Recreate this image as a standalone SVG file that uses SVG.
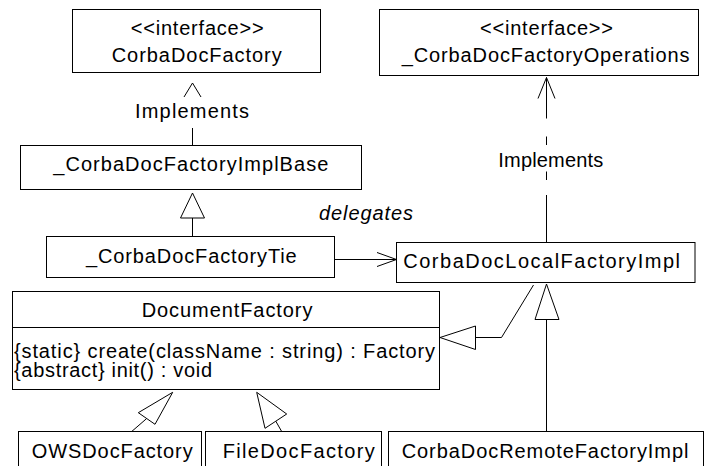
<svg xmlns="http://www.w3.org/2000/svg" width="715" height="466" viewBox="0 0 715 466">
<style>
.box{fill:#fff;stroke:#000;stroke-width:1}
.ln{fill:none;stroke:#000;stroke-width:1}
.tri{fill:#fff;stroke:#000;stroke-width:1}
text{font-family:"Liberation Sans",Arial,sans-serif;font-size:20px;fill:#000}
.it{font-style:italic}
</style>
<rect width="715" height="466" fill="#fff"/>
<g id="connectors">
  <!-- Implements (left) -->
  <line class="ln" x1="192.5" y1="128" x2="192.5" y2="145.5"/>
  <polyline class="ln" points="184,97 192.5,83 201,97"/>
  <!-- ImplBase <- Tie -->
  <line class="ln" x1="192.5" y1="218" x2="192.5" y2="236.5"/>
  <polygon class="tri" points="192.5,193 180.5,218 204.5,218"/>
  <!-- delegates -->
  <line class="ln" x1="334.5" y1="259.5" x2="396.5" y2="259.5"/>
  <polyline class="ln" points="377,252.5 396.5,259.5 377,266.5"/>
  <!-- Implements (right, dashed) -->
  <polyline class="ln" points="538,98.5 546.5,77.5 555,98.5"/>
  <line class="ln" x1="546.5" y1="77.5" x2="546.5" y2="118.5"/>
  <line class="ln" x1="546.5" y1="136.5" x2="546.5" y2="145"/>
  <line class="ln" x1="546.5" y1="171.5" x2="546.5" y2="180"/>
  <line class="ln" x1="546.5" y1="195" x2="546.5" y2="242.5"/>
  <!-- Local -> DocumentFactory -->
  <polyline class="ln" points="475.5,337.5 501.5,337.5 533.5,285"/>
  <polygon class="tri" points="440,337.5 475.5,326 475.5,349.5"/>
  <!-- Remote -> Local -->
  <line class="ln" x1="546.5" y1="319.5" x2="546.5" y2="431.5"/>
  <polygon class="tri" points="546.5,284 535,319.5 559,319.5"/>
  <!-- OWS -> DocumentFactory -->
  <line class="ln" x1="146.7" y1="418.5" x2="131.7" y2="431.5"/>
  <polygon class="tri" points="172.7,392.3 138.3,412.7 155,424.3"/>
  <!-- File -> DocumentFactory -->
  <line class="ln" x1="275.8" y1="421.2" x2="281.7" y2="431.5"/>
  <polygon class="tri" points="256.7,392.3 286.7,414 265,428.3"/>
</g>
<g id="labels">
  <text x="135" y="118" textLength="114" lengthAdjust="spacing">Implements</text>
  <text class="it" x="319" y="220" textLength="94" lengthAdjust="spacing">delegates</text>
  <text x="498.3" y="167" textLength="105" lengthAdjust="spacing">Implements</text>
</g>
<g id="CorbaDocFactory">
  <rect class="box" x="72.5" y="9.5" width="248" height="63"/>
  <text x="130.7" y="35" textLength="133" lengthAdjust="spacing">&lt;&lt;interface&gt;&gt;</text>
  <text x="111.7" y="62" textLength="170" lengthAdjust="spacing">CorbaDocFactory</text>
</g>
<g id="CorbaDocFactoryOperations">
  <rect class="box" x="379.5" y="9.5" width="319" height="66"/>
  <text x="480" y="35" textLength="133" lengthAdjust="spacing">&lt;&lt;interface&gt;&gt;</text>
  <text x="401.7" y="62" textLength="287.7" lengthAdjust="spacing">_CorbaDocFactoryOperations</text>
</g>
<g id="CorbaDocFactoryImplBase">
  <rect class="box" x="20.5" y="145.5" width="341" height="44"/>
  <text x="53.3" y="171" textLength="275" lengthAdjust="spacing">_CorbaDocFactoryImplBase</text>
</g>
<g id="CorbaDocFactoryTie">
  <rect class="box" x="46.5" y="236.5" width="288" height="41"/>
  <text x="86" y="262.5" textLength="210.7" lengthAdjust="spacing">_CorbaDocFactoryTie</text>
</g>
<g id="CorbaDocLocalFactoryImpl">
  <rect class="box" x="396.5" y="242.5" width="298.5" height="40"/>
  <text x="403.3" y="268.3" textLength="276.7" lengthAdjust="spacing">CorbaDocLocalFactoryImpl</text>
</g>
<g id="DocumentFactory">
  <rect class="box" x="12.5" y="291.5" width="427" height="98"/>
  <line class="ln" x1="12.5" y1="327.5" x2="439.5" y2="327.5"/>
  <text x="141.7" y="317.3" textLength="170.7" lengthAdjust="spacing">DocumentFactory</text>
  <text x="14" y="358.3" textLength="421" lengthAdjust="spacing">{static} create(className : string) : Factory</text>
  <text x="14" y="376.7" textLength="198" lengthAdjust="spacing">{abstract} init() : void</text>
</g>
<g id="OWSDocFactory">
  <rect class="box" x="18.5" y="431.5" width="183" height="40"/>
  <text x="31.7" y="458" textLength="161" lengthAdjust="spacing">OWSDocFactory</text>
</g>
<g id="FileDocFactory">
  <rect class="box" x="205.5" y="431.5" width="176" height="40"/>
  <text x="222.7" y="458" textLength="152" lengthAdjust="spacing">FileDocFactory</text>
</g>
<g id="CorbaDocRemoteFactoryImpl">
  <rect class="box" x="388.5" y="431.5" width="315" height="40"/>
  <text x="401.7" y="458" textLength="286.7" lengthAdjust="spacing">CorbaDocRemoteFactoryImpl</text>
</g>
</svg>
